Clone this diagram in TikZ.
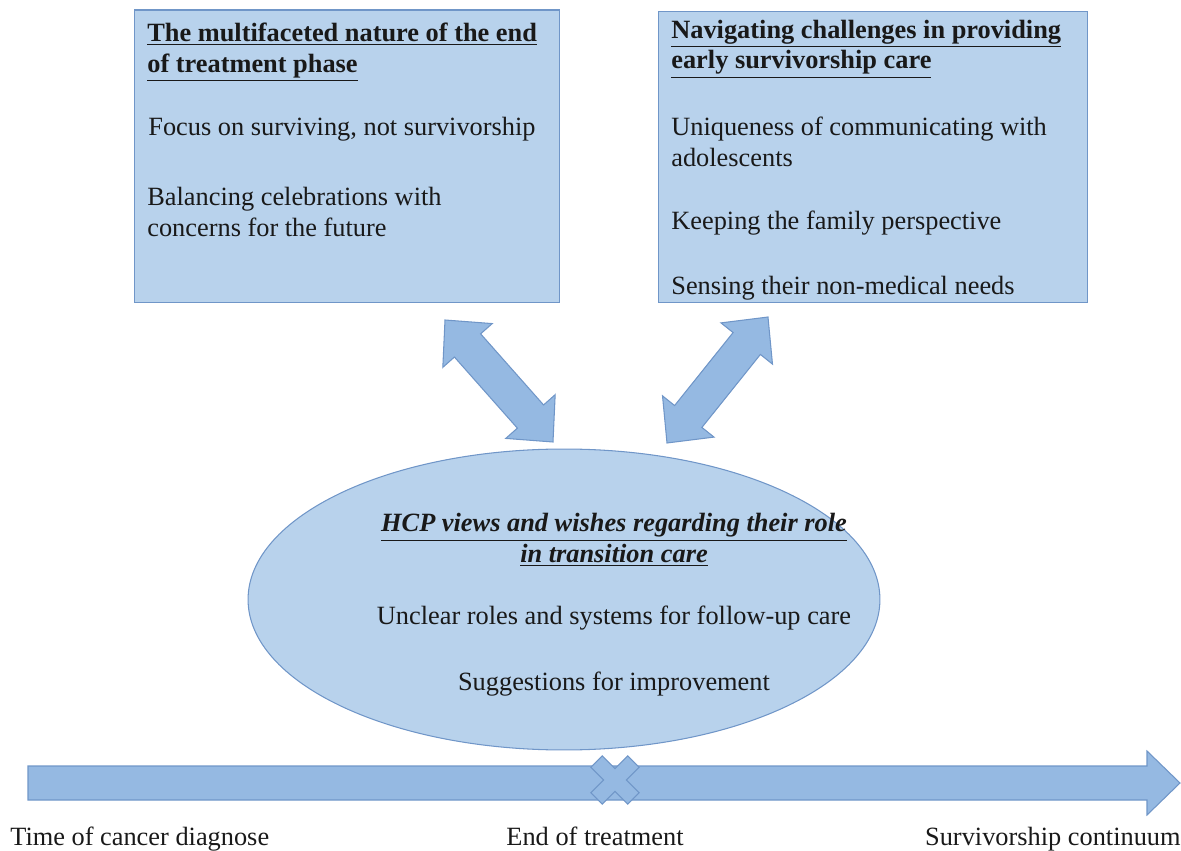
\documentclass[tikz,border=0pt]{standalone}
\usepackage{fontspec}
\setmainfont{Liberation Serif}
\usepackage{tikz}
\usetikzlibrary{shapes.geometric, calc}

\definecolor{boxblue}{RGB}{184,210,236}
\definecolor{arrowblue}{RGB}{149,185,226}
\definecolor{edgeblue}{RGB}{112,150,200}
\definecolor{ink}{RGB}{25,25,25}

\newcommand{\hdlen}{0.68cm}
\newcommand{\hdhalf}{0.66cm}
\newcommand{\shhalf}{0.35cm}

% block arrow with a head on both ends
\newcommand{\blockdarrow}[2]{%
	\coordinate (#1h) at ($(#1)!\hdlen!(#2)$);
	\coordinate (#2h) at ($(#2)!\hdlen!(#1)$);
	\path[blockarrow] (#1) -- ($(#1h)!\hdhalf!90:(#2)$) -- ($(#1h)!\shhalf!90:(#2)$) --
		($(#2h)!\shhalf!-90:(#1)$) -- ($(#2h)!\hdhalf!-90:(#1)$) -- (#2) --
		($(#2h)!\hdhalf!90:(#1)$) -- ($(#2h)!\shhalf!90:(#1)$) --
		($(#1h)!\shhalf!-90:(#2)$) -- ($(#1h)!\hdhalf!-90:(#2)$) -- cycle;
}

\begin{document}
\begin{tikzpicture}[x=0.02cm, y=-0.02cm]
	\tikzstyle{every node} = [font=\fontsize{15}{17.5}\selectfont, text=ink, inner sep=0pt]
	\tikzstyle{theme} = [draw=edgeblue, fill=boxblue, line width=0.6pt]
	\tikzstyle{blockarrow} = [draw=edgeblue, fill=arrowblue, line width=0.6pt, line join=miter]
	\tikzstyle{item} = [anchor=west, align=left]
	\useasboundingbox (0,0) rectangle (1181,851);

	% themes
	\node[theme, minimum width=8.52cm, minimum height=5.86cm] (lbox) at (347,156.5) {};
	\node[theme, minimum width=8.6cm, minimum height=5.82cm] (rbox) at (873,157) {};
	\node[theme, ellipse, minimum width=12.64cm, minimum height=6.02cm] (hcp) at (564,599.5) {};

	\node[item] (ltitle) at (147,52)
		{\textbf{\underline{The multifaceted nature of the end}}\\\textbf{\underline{of treatment phase}}};
	\node[item] (focus) at (148,129) {Focus on surviving, not survivorship};
	\node[item] (balance) at (147,212) {Balancing celebrations with\\concerns for the future};

	\node[item] (rtitle) at (671,49)
		{\textbf{\underline{Navigating challenges in providing}}\\\textbf{\underline{early survivorship care}}};
	\node[item] (unique) at (671,142) {Uniqueness of communicating with\\adolescents};
	\node[item] (family) at (671,223) {Keeping the family perspective};
	\node[item] (sensing) at (671,288) {Sensing their non-medical needs};

	\node[align=center] (hcptitle) at (614,540)
		{\textbf{\textit{\underline{HCP views and wishes regarding their role}}}\\\textbf{\textit{\underline{in transition care}}}};
	\node (unclear) at (614,618) {Unclear roles and systems for follow-up care};
	\node (suggest) at (614,684) {Suggestions for improvement};

	% links between the themes
	\coordinate (la) at (445,320);
	\coordinate (lb) at (553,442);
	\coordinate (ra) at (768,317);
	\coordinate (rb) at (667,443);
	\blockdarrow{la}{lb}
	\blockdarrow{ra}{rb}

	% time line
	\coordinate (start) at (28,783);
	\coordinate (stop) at (1180,783);
	\path[blockarrow] ($(start)+(0,-17)$) -- ($(stop)+(-33,-17)$) -- ($(stop)+(-33,-32)$) --
		(stop) -- ($(stop)+(-33,32)$) -- ($(stop)+(-33,17)$) -- ($(start)+(0,17)$) -- cycle;
	\coordinate (eot) at (615,780);
	\begin{scope}[shift={(eot)}, rotate=45]
		\path[blockarrow] (8,26) -- (8,8) -- (26,8) -- (26,-8) -- (8,-8) -- (8,-26) --
			(-8,-26) -- (-8,-8) -- (-26,-8) -- (-26,8) -- (-8,8) -- (-8,26) -- cycle;
	\end{scope}

	\node[anchor=base west] (diag) at (10,845) {Time of cancer diagnose};
	\node[anchor=base] (eotlabel) at (595,845) {End of treatment};
	\node[anchor=base east] (cont) at (1181,845) {Survivorship continuum};
\end{tikzpicture}
\end{document}
